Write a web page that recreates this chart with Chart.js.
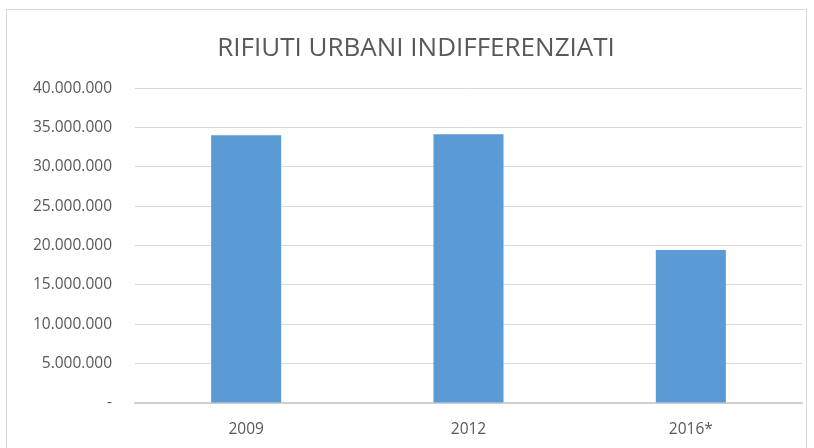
<!DOCTYPE html>
<html>
<head>
<meta charset="utf-8">
<script src="https://cdn.jsdelivr.net/npm/chart.js@4/dist/chart.umd.min.js"></script>
<style>
  html, body { margin: 0; padding: 0; background: #fff; }
  #wrap { position: relative; width: 814px; height: 448px; }
  #frame { position: absolute; left: 6px; top: 9px; width: 801px; height: 450px; border: 1px solid #d9d9d9; box-sizing: border-box; }
  canvas { position: absolute; left: 0; top: 0; }
</style>
</head>
<body>
<div id="wrap">
  <div id="frame"></div>
  <canvas id="myChart" width="814" height="448"></canvas>
</div>
<script>
const categories = ['2009', '2012', '2016*'];
const values = [34030000, 34160000, 19430000];
const yTicks = [0, 5000000, 10000000, 15000000, 20000000, 25000000, 30000000, 35000000, 40000000];

function formatIt(v) {
    if (v === 0) return '-';
    return String(v).replace(/\B(?=(\d{3})+(?!\d))/g, '.');
}

const ctx = document.getElementById('myChart').getContext('2d');
const myChart = new Chart(ctx, {
    type: 'bar',
    data: {
        labels: categories,
        datasets: [{
            label: 'Rifiuti urbani indifferenziati',
            data: values,
            backgroundColor: '#5b9bd5',
            borderWidth: 0,
            barPercentage: 0.63,
            categoryPercentage: 0.5
        }]
    },
    options: {
        responsive: false,
        animation: false,
        // left padding shifts the title centre to match the original
        layout: { padding: { left: 30, right: 12, top: 0, bottom: 0 } },
        plugins: {
            legend: { display: false },
            tooltip: { enabled: false },
            title: {
                display: true,
                text: 'RIFIUTI URBANI INDIFFERENZIATI',
                color: '#595959',
                font: { family: "'Liberation Sans Narrow', 'Open Sans', sans-serif", size: 26, weight: 'normal' },
                padding: { top: 33, bottom: 24 }
            }
        },
        scales: {
            x: {
                afterFit: scale => { scale.height = 45; },
                grid: { display: false, drawTicks: false },
                border: { display: true, color: '#d0d0d0', width: 2 },
                ticks: {
                    color: '#595959',
                    font: { family: "'Open Sans', sans-serif", size: 15.5 },
                    padding: 17
                }
            },
            y: {
                min: 0,
                max: 40000000,
                afterBuildTicks: scale => { scale.ticks = yTicks.map(v => ({ value: v })); },
                afterFit: scale => { scale.width = 105; },
                grid: { color: '#d9d9d9', lineWidth: 1, drawTicks: false },
                border: { display: false },
                ticks: {
                    color: '#595959',
                    font: { family: "'Open Sans', sans-serif", size: 15.5 },
                    padding: 23,
                    callback: v => formatIt(v)
                }
            }
        }
    }
});
</script>
</body>
</html>
